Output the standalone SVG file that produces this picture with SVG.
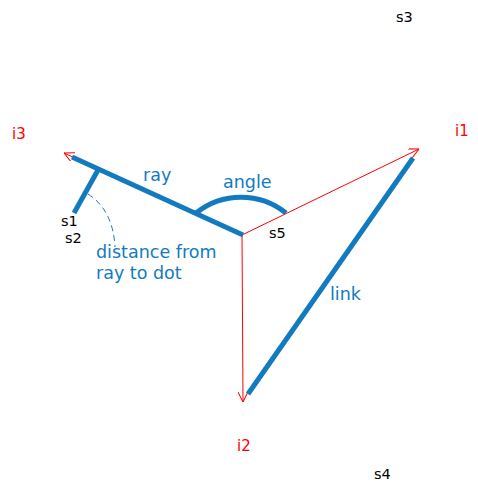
<svg xmlns="http://www.w3.org/2000/svg" width="478" height="485" viewBox="0 0 478 485">
<style>
.blue{stroke:#127bc0;stroke-width:5;fill:none;stroke-linecap:butt}
.red{stroke:#ff0000;stroke-width:1;fill:none}
.lbl{font-family:"DejaVu Sans",Verdana,sans-serif;font-size:17.5px;fill:#127bc0}
.s{font-family:"DejaVu Sans",Verdana,sans-serif;font-size:14.5px;fill:#000}
.i{font-family:"DejaVu Sans",Verdana,sans-serif;font-size:15px;fill:#ff0000}
</style>
<defs>
<marker id="arr" viewBox="0 0 10 10" refX="10" refY="5" markerWidth="10" markerHeight="10" markerUnits="userSpaceOnUse" orient="auto">
<path d="M0,0 L10,5 L0,10" fill="none" stroke="#ff0000" stroke-width="1"/>
</marker>
</defs>
<rect width="478" height="485" fill="#fff"/>
<g id="connectors">
<line class="red" x1="242" y1="235" x2="64" y2="153" marker-end="url(#arr)"/>
<line class="red" x1="242" y1="235" x2="419" y2="149" marker-end="url(#arr)"/>
<line class="red" x1="242" y1="235" x2="243" y2="402" marker-end="url(#arr)"/>
<line class="blue" x1="243" y1="235" x2="72" y2="157"/>
<line class="blue" x1="98" y1="170" x2="74" y2="213"/>
<line class="blue" x1="413" y1="158" x2="248" y2="394"/>
<path class="blue" d="M196,213 A72,72 0 0 1 286,213" stroke-width="3"/>
<path d="M88,194 Q113,210 115,247" fill="none" stroke="#127bc0" stroke-width="1" stroke-dasharray="6,4"/>
</g>
<g id="labels">
<text class="lbl" x="143" y="181">ray</text>
<text class="lbl" x="223" y="188">angle</text>
<text class="lbl" x="330" y="300">link</text>
<text class="lbl" x="96" y="258">distance from</text>
<text class="lbl" x="96" y="279">ray to dot</text>
</g>
<g id="s1"><text class="s" x="61" y="226">s1</text></g>
<g id="s2"><text class="s" x="65" y="243">s2</text></g>
<g id="s3"><text class="s" x="396" y="22">s3</text></g>
<g id="s4"><text class="s" x="374" y="479">s4</text></g>
<g id="s5"><text class="s" x="269" y="238">s5</text></g>
<g id="i1"><text class="i" x="455" y="136">i1</text></g>
<g id="i2"><text class="i" x="237" y="451">i2</text></g>
<g id="i3"><text class="i" x="12" y="139">i3</text></g>
</svg>
